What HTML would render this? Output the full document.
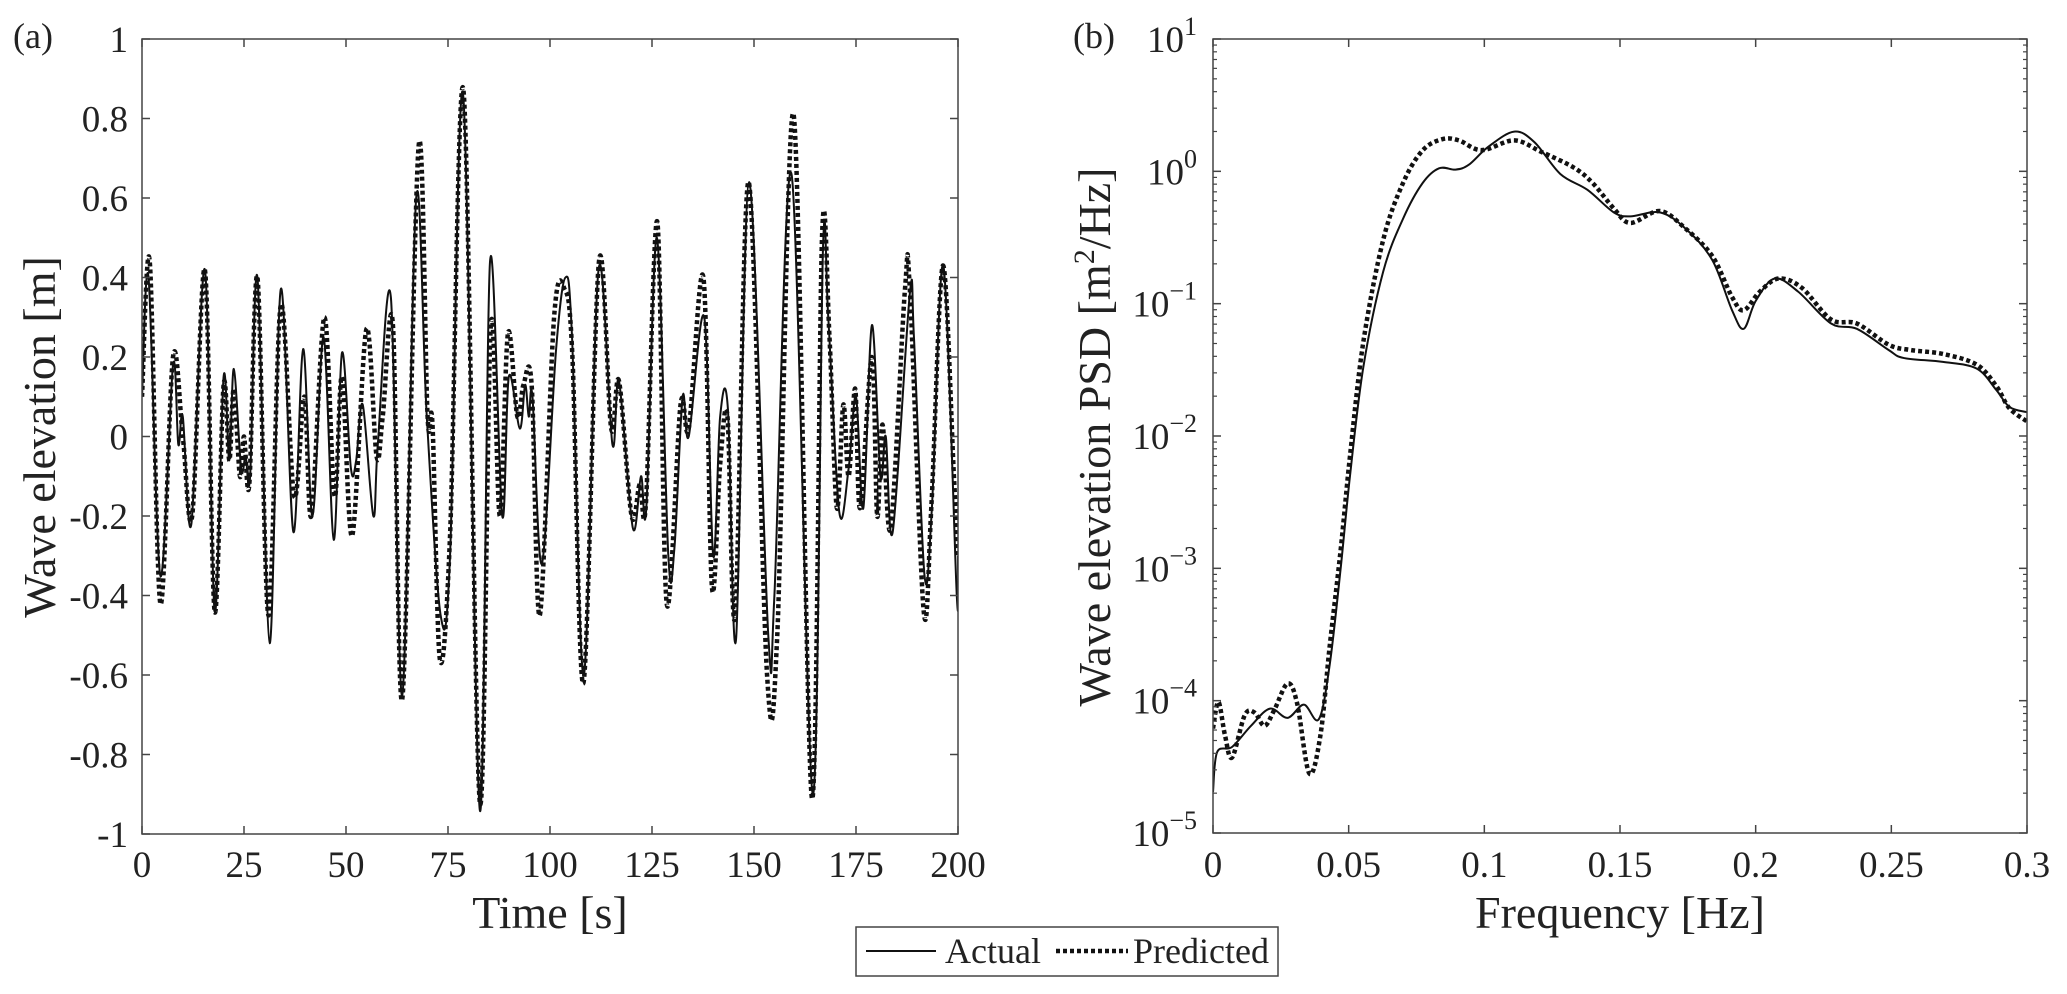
<!DOCTYPE html>
<html><head><meta charset="utf-8"><style>
html,body{margin:0;padding:0;background:#fff}
svg{display:block}
svg text{font-family:"Liberation Serif","DejaVu Serif","Times New Roman",serif !important;fill:#222}
</style></head><body>
<svg id="fig" width="2067" height="994" viewBox="0 0 2067 994" xmlns="http://www.w3.org/2000/svg" font-family="Liberation Serif, DejaVu Serif, serif">
<g id="pa"></g>
<g id="pb"></g>
<g>
<rect x="856" y="927" width="422" height="49" fill="#fff" stroke="#444" stroke-width="1.5"/>
<line x1="866" y1="951" x2="936" y2="951" stroke="#111" stroke-width="2"/>
<text x="945" y="963" font-size="36" font-family="Liberation Serif, serif">Actual</text>
<line x1="1056" y1="951" x2="1128" y2="951" stroke="#111" stroke-width="4.5" stroke-dasharray="4 3"/>
<text x="1133" y="963" font-size="36" font-family="Liberation Serif, serif">Predicted</text>
</g>
</svg>
<script>
// ---- Panel (a) data ----
const actT=[0,1.6,4.5,7.6,8.9,10,12.1,15.4,17.8,20,21.4,22.5,24.3,25.4,26.5,28.3,31.3,34,37.1,39.5,41.8,44.5,47,49,51.2,52.5,54.1,56.7,57.8,61,63.8,67.2,69.8,73.2,75.5,78.7,82.8,85.3,88.3,89.9,92.6,93.9,94.8,95.7,98,101.5,103.8,105.4,108.3,111.9,115.3,116.9,120.3,122.3,123.6,126.2,129,130.5,132.5,134,137.8,140,141.7,143.6,145.6,148.8,153.5,155,159.2,164.4,166.9,168.2,170.9,173.2,175,176.8,178.9,181,182.3,184,188.2,189.2,191.8,193.6,196.4,199.7,200];
const actV=[0.1,0.4,-0.35,0.18,-0.02,0.05,-0.22,0.42,-0.44,0.15,-0.06,0.17,-0.08,-0.05,-0.1,0.4,-0.52,0.37,-0.24,0.22,-0.2,0.25,-0.26,0.21,-0.08,-0.06,0.08,-0.2,-0.02,0.35,-0.65,0.6,0.05,-0.45,-0.3,0.86,-0.94,0.44,-0.2,0.15,0.02,0.13,0.05,0.1,-0.32,0.22,0.4,0.25,-0.6,0.42,-0.02,0.14,-0.23,-0.1,-0.18,0.5,-0.3,-0.28,0.1,0.0,0.3,-0.3,0.05,0.07,-0.51,0.64,-0.5,-0.4,0.66,-0.9,0.47,0.3,-0.19,-0.08,0.1,-0.18,0.28,-0.1,0.0,-0.24,0.36,0.25,-0.35,-0.18,0.43,-0.4,-0.3];
const preT=[0,1.9,4.5,7.6,10,12.3,15.4,17.8,20,21.4,22.5,24,25,26.3,28.3,31,34,37.3,39.8,41.5,44.7,47.2,49,51.5,55,57.5,59,61.5,63.8,67.8,70,71.2,73,75.5,78.8,82.8,85.5,87.7,89.7,92,93.5,95.5,97.5,101,103.6,105.5,108.2,112,115,116.9,120,122,123.5,126.3,128.6,132,134,137.6,139.7,141.7,143.5,145.4,148.7,153.2,155.7,159.7,164.2,166.7,168.5,170.3,171.9,173.2,174.8,176,178.9,180.2,181.5,183.5,187,188.2,191.6,193.5,196.3,199,200];
const preV=[0.1,0.44,-0.42,0.2,0.0,-0.2,0.42,-0.44,0.13,-0.06,0.12,-0.1,0.0,-0.12,0.4,-0.45,0.33,-0.15,0.1,-0.2,0.3,-0.15,0.15,-0.25,0.27,-0.05,0.05,0.28,-0.66,0.73,0.05,0.03,-0.56,-0.25,0.87,-0.92,0.28,-0.2,0.26,0.05,0.13,0.13,-0.45,0.3,0.37,0.2,-0.62,0.44,0.02,0.14,-0.2,-0.12,-0.17,0.54,-0.42,0.08,0.02,0.4,-0.38,-0.07,0.05,-0.45,0.64,-0.6,-0.5,0.81,-0.91,0.51,0.25,-0.18,0.08,-0.1,0.12,-0.18,0.2,-0.2,0.03,-0.23,0.37,0.37,-0.44,-0.17,0.43,-0.1,-0.3];
const aXTicks=[0,25,50,75,100,125,150,175,200];
const aYTicks=[-1,-0.8,-0.6,-0.4,-0.2,0,0.2,0.4,0.6,0.8,1];
// ---- Panel (b) data ----
const actF=[0,0.0015,0.007,0.014,0.021,0.0275,0.0335,0.039,0.043,0.047,0.0505,0.0554,0.0627,0.07,0.0772,0.0833,0.0894,0.0943,0.1015,0.111,0.1185,0.128,0.138,0.1477,0.1538,0.1647,0.174,0.184,0.1913,0.1956,0.2,0.207,0.2157,0.2278,0.2373,0.249,0.2545,0.269,0.2814,0.2886,0.2935,0.3];
const actLogP=[-4.69,-4.39,-4.35,-4.19,-4.06,-4.13,-4.03,-4.14,-3.73,-3.01,-2.3,-1.48,-0.76,-0.36,-0.09,0.023,0.013,0.05,0.186,0.3,0.22,-0.02,-0.14,-0.31,-0.34,-0.31,-0.43,-0.67,-1.05,-1.19,-0.98,-0.81,-0.91,-1.15,-1.19,-1.35,-1.41,-1.44,-1.49,-1.65,-1.78,-1.82];
const preF=[0,0.002,0.0044,0.007,0.0117,0.0153,0.019,0.0226,0.0275,0.031,0.0355,0.0396,0.043,0.047,0.0505,0.0554,0.0627,0.07,0.0772,0.0845,0.0906,0.099,0.111,0.121,0.133,0.14,0.1477,0.1538,0.1647,0.174,0.184,0.1913,0.1956,0.2015,0.2085,0.217,0.2278,0.2373,0.249,0.257,0.269,0.2814,0.2886,0.2935,0.3];
const preLogP=[-4.21,-4.01,-4.26,-4.43,-4.11,-4.09,-4.19,-4.07,-3.87,-4.02,-4.55,-4.26,-3.59,-2.87,-2.15,-1.29,-0.52,-0.09,0.157,0.243,0.234,0.16,0.234,0.147,0.028,-0.09,-0.28,-0.39,-0.3,-0.43,-0.64,-0.95,-1.05,-0.91,-0.81,-0.88,-1.12,-1.15,-1.31,-1.35,-1.38,-1.46,-1.62,-1.79,-1.89];
const bXTicks=[0,0.05,0.1,0.15,0.2,0.25,0.3];
const bXLabels=["0","0.05","0.1","0.15","0.2","0.25","0.3"];
const bYExp=[-5,-4,-3,-2,-1,0,1];

const NS="http://www.w3.org/2000/svg";
const FF="Liberation Serif, DejaVu Serif, serif";
function mk(parent,tag,attrs){const e=document.createElementNS(NS,tag);for(const k in attrs)e.setAttribute(k,attrs[k]);if(tag==='text')e.setAttribute('font-family',FF);parent.appendChild(e);return e;}
function smooth(pts){let d="M"+pts[0][0].toFixed(2)+","+pts[0][1].toFixed(2);
 for(let i=0;i<pts.length-1;i++){const p0=pts[Math.max(0,i-1)],p1=pts[i],p2=pts[i+1],p3=pts[Math.min(pts.length-1,i+2)];
  const c1x=p1[0]+(p2[0]-p0[0])/6,c1y=p1[1]+(p2[1]-p0[1])/6,c2x=p2[0]-(p3[0]-p1[0])/6,c2y=p2[1]-(p3[1]-p1[1])/6;
  d+="C"+c1x.toFixed(2)+","+c1y.toFixed(2)+" "+c2x.toFixed(2)+","+c2y.toFixed(2)+" "+p2[0].toFixed(2)+","+p2[1].toFixed(2);}
 return d;}

// Panel a
const A={l:142,r:958,t:39,b:834};
const ax=v=>A.l+(v-0)/(200-0)*(A.r-A.l);
const ay=v=>A.b-(v+1)/2*(A.b-A.t);
const pa=document.getElementById('pa');
let cp=mk(pa,'clipPath',{id:'ca'});mk(cp,'rect',{x:A.l,y:A.t,width:A.r-A.l,height:A.b-A.t});
let g=mk(pa,'g',{'clip-path':'url(#ca)'});
let pth=mk(g,'path',{d:smooth(actT.map((t,i)=>[ax(t),ay(actV[i])])),fill:'none',stroke:'#111','stroke-width':2});


pth=mk(g,'path',{d:smooth(preT.map((t,i)=>[ax(t),ay(preV[i])])),fill:'none',stroke:'#111','stroke-width':4.5,'stroke-dasharray':'4 3'});


let fr=mk(pa,'rect',{x:A.l,y:A.t,width:A.r-A.l,height:A.b-A.t,fill:'none',stroke:'#444','stroke-width':1.5});


aXTicks.forEach(v=>{const x=ax(v);
 mk(pa,'line',{x1:x,x2:x,y1:A.b,y2:A.b-8,stroke:'#444','stroke-width':1.5});
 mk(pa,'line',{x1:x,x2:x,y1:A.t,y2:A.t+8,stroke:'#444','stroke-width':1.5});
 const t=mk(pa,'text',{x:x,y:877,'font-size':37,'text-anchor':'middle'});t.textContent=v;
 
 });
aYTicks.forEach(v=>{const y=ay(v);
 mk(pa,'line',{x1:A.l,x2:A.l+8,y1:y,y2:y,stroke:'#444','stroke-width':1.5});
 mk(pa,'line',{x1:A.r,x2:A.r-8,y1:y,y2:y,stroke:'#444','stroke-width':1.5});
 const t=mk(pa,'text',{x:128,y:y+13,'font-size':37,'text-anchor':'end'});t.textContent=(Math.round(v*10)/10).toString();
 
 });
let tx=mk(pa,'text',{x:550,y:928,'font-size':46,'text-anchor':'middle'});tx.textContent='Time [s]';


tx=mk(pa,'text',{x:0,y:0,'font-size':46,'text-anchor':'middle',transform:'translate(55,437) rotate(-90)'});tx.textContent='Wave elevation [m]';


tx=mk(pa,'text',{x:13,y:48,'font-size':36});tx.textContent='(a)';



// Panel b
const B={l:1213,r:2027,t:39,b:833};
const bx=v=>B.l+v/0.3*(B.r-B.l);
const by=lg=>B.b-(lg+5)/6*(B.b-B.t);
const pb=document.getElementById('pb');
cp=mk(pb,'clipPath',{id:'cb'});mk(cp,'rect',{x:B.l,y:B.t,width:B.r-B.l,height:B.b-B.t});
g=mk(pb,'g',{'clip-path':'url(#cb)'});
pth=mk(g,'path',{d:smooth(actF.map((f,i)=>[bx(f),by(actLogP[i])])),fill:'none',stroke:'#111','stroke-width':2});


pth=mk(g,'path',{d:smooth(preF.map((f,i)=>[bx(f),by(preLogP[i])])),fill:'none',stroke:'#111','stroke-width':4.5,'stroke-dasharray':'4 3'});


fr=mk(pb,'rect',{x:B.l,y:B.t,width:B.r-B.l,height:B.b-B.t,fill:'none',stroke:'#444','stroke-width':1.5});


bXTicks.forEach((v,i)=>{const x=bx(v);
 mk(pb,'line',{x1:x,x2:x,y1:B.b,y2:B.b-8,stroke:'#444','stroke-width':1.5});
 mk(pb,'line',{x1:x,x2:x,y1:B.t,y2:B.t+8,stroke:'#444','stroke-width':1.5});
 const t=mk(pb,'text',{x:x,y:877,'font-size':37,'text-anchor':'middle'});t.textContent=bXLabels[i];
 
 });
bYExp.forEach(e=>{const y=by(e);
 mk(pb,'line',{x1:B.l,x2:B.l+8,y1:y,y2:y,stroke:'#444','stroke-width':1.5});
 mk(pb,'line',{x1:B.r,x2:B.r-8,y1:y,y2:y,stroke:'#444','stroke-width':1.5});
 if(e<1){for(let m=2;m<10;m++){const ym=by(e+Math.log10(m));
  mk(pb,'line',{x1:B.l,x2:B.l+4,y1:ym,y2:ym,stroke:'#444','stroke-width':1.2});
  mk(pb,'line',{x1:B.r,x2:B.r-4,y1:ym,y2:ym,stroke:'#444','stroke-width':1.2});}}
 const t=mk(pb,'text',{x:1197,y:y+13,'font-size':37,'text-anchor':'end'});
 const s1=mk(t,'tspan',{});s1.textContent='10';
 const s2=mk(t,'tspan',{dy:-17,'font-size':26});s2.textContent=e<0?'\u2212'+(-e):String(e);
 
 });
tx=mk(pb,'text',{x:1620,y:928,'font-size':46,'text-anchor':'middle'});tx.textContent='Frequency [Hz]';


tx=mk(pb,'text',{x:0,y:0,'font-size':46,'text-anchor':'middle',transform:'translate(1110,437) rotate(-90)'});
const u1=mk(tx,'tspan',{});u1.textContent='Wave elevation PSD [m';
const u2=mk(tx,'tspan',{dy:-16,'font-size':30});u2.textContent='2';
const u3=mk(tx,'tspan',{dy:16});u3.textContent='/Hz]';


tx=mk(pb,'text',{x:1073,y:48,'font-size':36});tx.textContent='(b)';


</script>
</body></html>
